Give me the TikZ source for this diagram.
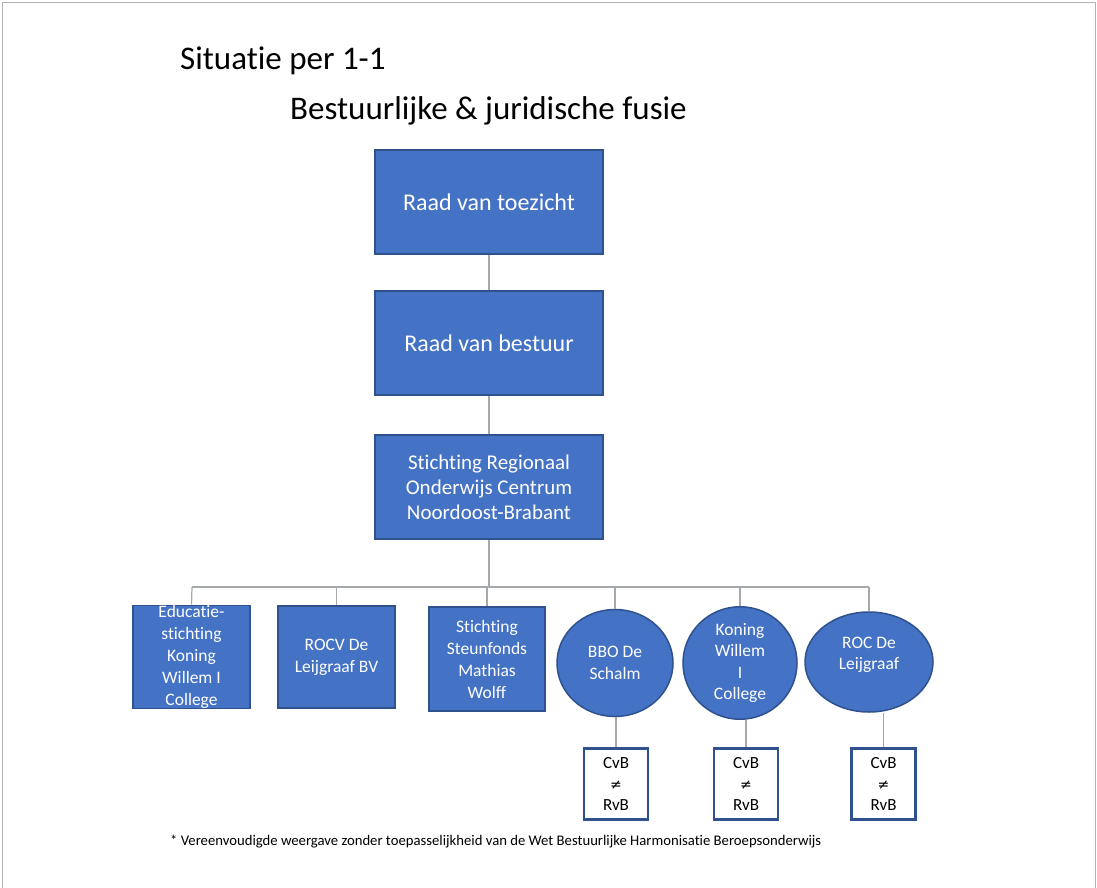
\documentclass[tikz,border=0pt]{standalone}
\usepackage{fontspec}
\setmainfont{Carlito}[Ligatures=NoCommon]
\newfontfamily\symfont{DejaVu Sans}
\usetikzlibrary{shapes.geometric}
\definecolor{boxblue}{HTML}{4472C4}
\definecolor{boxedge}{HTML}{2F528F}
\definecolor{linegray}{HTML}{A5A9AE}
\definecolor{framegray}{HTML}{B4B4B4}
\begin{document}
\begin{tikzpicture}[x=1pt,y=-1pt,
  bigbox/.style={draw=boxedge, line width=1.5pt, fill=boxblue, text=white,
    minimum width=228pt, minimum height=104pt, inner sep=0pt, align=center},
  smallbox/.style={draw=boxedge, line width=1.5pt, fill=boxblue, text=white,
    minimum width=117pt, minimum height=102pt, inner sep=0pt, align=center,
    font=\fontsize{17.5}{22}\selectfont},
  ell/.style={ellipse, draw=boxedge, line width=1.5pt, fill=boxblue, text=white,
    inner sep=0pt, align=center, font=\fontsize{17.5}{21.5}\selectfont},
  cvb/.style={draw=boxedge, line width=2.4pt, fill=white, text=black,
    minimum width=64pt, minimum height=71pt, inner sep=0pt, align=center,
    font=\fontsize{17}{21}\selectfont},
  conn/.style={draw=linegray, line width=1.2pt},
  titletext/.style={anchor=base west, inner sep=0pt, font=\fontsize{33}{40}\selectfont}
]
\useasboundingbox (0,0) rectangle (1097,888);
\fill[white] (0,0) rectangle (1097,888);
\draw[framegray, line width=1pt] (2,888) -- (2,3) -- (1095,3) -- (1095,888);

\node[titletext] (t1) at (180,70) {Situatie per 1-1};
\node[titletext] (t2) at (290,120) {Bestuurlijke \& juridische fusie};

\node[bigbox, font=\fontsize{24}{29}\selectfont] (rvt) at (489,202) {Raad van toezicht};
\node[bigbox, font=\fontsize{24}{29}\selectfont] (rvb) at (489,343) {Raad van bestuur};
\node[bigbox, font=\fontsize{21}{25}\selectfont] (sroc) at (489,487) {Stichting Regionaal\\Onderwijs Centrum\\Noordoost-Brabant};

\coordinate (busL) at (192,587);
\coordinate (busM) at (489,587);
\coordinate (busR) at (869,587);

\node[smallbox] (ed) at (191.5,657) {Educatie-\\stichting\\Koning\\Willem I\\College};
\node[smallbox] (rocv) at (336.5,657) {ROCV De\\Leijgraaf BV};
\node[smallbox, minimum width=116pt, minimum height=104pt] (sms) at (487,659) {Stichting\\Steunfonds\\Mathias\\Wolff};

\node[ell, minimum width=116pt, minimum height=107pt] (bbo) at (615,663) {BBO De\\Schalm};
\node[ell, minimum width=114pt, minimum height=107pt] (kw) at (740,663) {Koning\\Willem\\I\\College};
\node[ell, minimum width=128pt, minimum height=100pt,
  label={[text=white, align=center, inner sep=0pt, yshift=7pt,
    font=\fontsize{17.5}{21.5}\selectfont]center:ROC De\\Leijgraaf}] (rocl) at (869,662) {};

\node[cvb] (c1) at (616,784) {CvB\\{\symfont\fontsize{14}{21}\selectfont ≠}\\RvB};
\node[cvb] (c2) at (746,784) {CvB\\{\symfont\fontsize{14}{21}\selectfont ≠}\\RvB};
\node[cvb] (c3) at (883.5,784) {CvB\\{\symfont\fontsize{14}{21}\selectfont ≠}\\RvB};

\path[conn] (rvt) -- (rvb);
\path[conn] (rvb) -- (sroc);
\path[conn] (sroc) -- (busM);
\path[conn] (busL) -- (busR);
\path[conn] (busL) -- (ed.north);
\path[conn] (rocv.north |- busL) -- (rocv.north);
\path[conn] (sms.north |- busL) -- (sms.north);
\path[conn] (bbo.north |- busL) -- (bbo.north);
\path[conn] (kw.north |- busL) -- (kw.north);
\path[conn] (busR) -- (rocl.north);
\path[conn] (c1.north) -- (c1.north |- bbo.south);
\path[conn] (c2.north) -- (c2.north |- kw.south);
\path[conn] (c3.north) -- (c3.north |- rocl.south);

\node[anchor=base west, inner sep=0pt, font=\fontsize{14.7}{17}\selectfont] (fn) at (170,845)
  {* Vereenvoudigde weergave zonder toepasselijkheid van de Wet Bestuurlijke Harmonisatie Beroepsonderwijs};
\end{tikzpicture}
\end{document}
